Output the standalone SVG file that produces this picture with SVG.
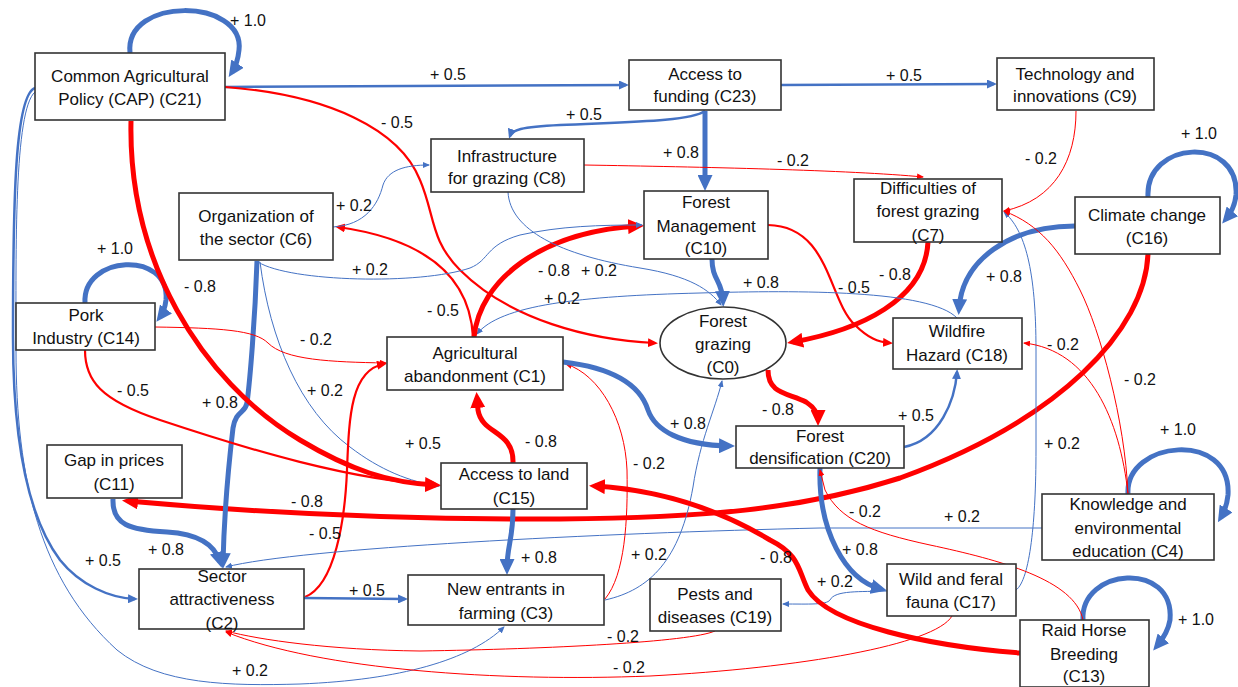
<svg xmlns="http://www.w3.org/2000/svg" width="1238" height="687" viewBox="0 0 1238 687">
<defs>
<style>
.n rect,.n ellipse{fill:#fff;stroke:#333;stroke-width:1.6}
.n text{font-family:"Liberation Sans",Arial,sans-serif;font-size:17px;fill:#111;text-anchor:middle}
.lb{font-family:"Liberation Sans",Arial,sans-serif;font-size:16px;fill:#111;text-anchor:middle}
.e{fill:none}
.bT{stroke:#4472C4;stroke-width:5;marker-end:url(#mbT)}
.bM{stroke:#4472C4;stroke-width:2.5;marker-end:url(#mbM)}
.bS{stroke:#4472C4;stroke-width:1;marker-end:url(#mbS)}
.rT{stroke:#FF0000;stroke-width:5;marker-end:url(#mrT)}
.rM{stroke:#FF0000;stroke-width:2.2;marker-end:url(#mrM)}
.rS{stroke:#FF0000;stroke-width:1;marker-end:url(#mrS)}
</style>
<marker id="mbT" viewBox="0 0 16 15" refX="10" refY="7.5" markerWidth="16" markerHeight="15" markerUnits="userSpaceOnUse" orient="auto"><path d="M0,0 L16,7.5 L0,15 z" fill="#4472C4"/></marker>
<marker id="mrT" viewBox="0 0 16 15" refX="10" refY="7.5" markerWidth="16" markerHeight="15" markerUnits="userSpaceOnUse" orient="auto"><path d="M0,0 L16,7.5 L0,15 z" fill="#FF0000"/></marker>
<marker id="mbM" viewBox="0 0 10 9" refX="7" refY="4.5" markerWidth="10" markerHeight="9" markerUnits="userSpaceOnUse" orient="auto"><path d="M0,0 L10,4.5 L0,9 z" fill="#4472C4"/></marker>
<marker id="mrM" viewBox="0 0 10 9" refX="7" refY="4.5" markerWidth="10" markerHeight="9" markerUnits="userSpaceOnUse" orient="auto"><path d="M0,0 L10,4.5 L0,9 z" fill="#FF0000"/></marker>
<marker id="mbS" viewBox="0 0 7 6" refX="6" refY="3" markerWidth="7" markerHeight="6" markerUnits="userSpaceOnUse" orient="auto"><path d="M0,0 L7,3 L0,6 z" fill="#4472C4"/></marker>
<marker id="mrS" viewBox="0 0 7 6" refX="6" refY="3" markerWidth="7" markerHeight="6" markerUnits="userSpaceOnUse" orient="auto"><path d="M0,0 L7,3 L0,6 z" fill="#FF0000"/></marker>
</defs>
<rect width="1238" height="687" fill="#fff"/>
<g id="connectors">
<!-- self loops -->
<path class="e bT" d="M130,53 C124,-4 245,-2 239,50 C238,60 236,66 232,72"/>
<path class="e bT" d="M85,303 C82,255 170,250 166,300 C165,308 163,313 160,317"/>
<path class="e bT" d="M1148,197 C1145,140 1240,135 1236,195 C1235,205 1231,213 1226,219"/>
<path class="e bT" d="M1128,494 C1125,440 1232,430 1228,495 C1227,505 1224,512 1221,517"/>
<path class="e bT" d="M1083,620 C1080,568 1175,560 1170,620 C1168,632 1162,640 1157,646"/>
<!-- edges -->
<path class="e bM" d="M225,87 L626,85"/>
<path class="e bM" d="M781,85 L994,84"/>
<path class="e rM" d="M225,87 C330,95 400,130 420,180 C435,215 430,240 460,270 C510,320 590,340 655,343"/>
<path class="e bM" d="M705,111 C690,122 620,122 560,125 C520,127 512,130 510,136"/>
<path class="e bT" d="M705,111 L705,185"/>
<path class="e rS" d="M584,165 C700,167 850,170 923,177"/>
<path class="e rS" d="M1076,111 C1076,160 1055,200 1004,211"/>
<path class="e bT" d="M1075,226 C1010,226 962,260 959,309"/>
<path class="e rT" d="M1148,254 C1145,330 1060,420 900,478 C800,510 700,518 560,519 C400,520 250,512 128,501"/>
<path class="e rT" d="M928,242 C925,300 860,330 793,342"/>
<path class="e bT" d="M712,259 C712,280 722,280 723,301"/>
<path class="e rM" d="M768,225 C830,226 828,300 855,325 C868,338 878,342 890,343"/>
<path class="e bS" d="M957,318 C930,290 800,290 700,293 C580,296 500,305 477,334"/>
<path class="e rT" d="M474,337 C480,280 540,232 638,226"/>
<path class="e rM" d="M473,337 C470,280 430,240 338,227"/>
<path class="e bS" d="M258,262 C290,282 420,285 470,268 C490,260 485,245 520,235 C560,226 600,225 642,225"/>
<path class="e bS" d="M333,227 C365,225 378,205 383,185 C388,170 405,165 429,165"/>
<path class="e bS" d="M508,192 C510,230 560,255 640,268 C690,276 710,290 721,305"/>
<path class="e bT" d="M257,261 C255,320 250,380 247,403 C245,414 236,410 233,428 C228,470 224,520 223,563"/>
<path class="e bS" d="M260,262 C270,340 300,410 350,447 C380,470 410,482 439,486"/>
<path class="e rS" d="M155,327 C220,328 255,330 268,343 C285,360 330,362 386,363"/>
<path class="e rM" d="M85,350 C85,380 100,400 160,420 C250,450 350,480 437,485"/>
<path class="e rT" d="M131,121 C128,260 200,380 300,440 C350,470 390,483 435,485"/>
<path class="e bM" d="M35,88 C15,95 13,200 13,337 C13,450 30,520 60,560 C80,585 110,598 135,599"/>
<path class="e bS" d="M35,92 C14,110 16,250 16,350 C16,480 40,580 117,650 C160,685 230,686 300,684 C400,680 470,660 504,627"/>
<path class="e bT" d="M113,499 C112,525 130,530 167,532 C200,534 215,545 220,562"/>
<path class="e rT" d="M513,463 C514,430 482,435 478,410 L477,398"/>
<path class="e bT" d="M513,509 C513,540 507,545 507,569"/>
<path class="e rM" d="M305,597 C335,585 345,520 347,470 C349,420 350,370 384,364"/>
<path class="e bM" d="M304,598 L405,599"/>
<path class="e bS" d="M1042,528 L820,528 C600,533 300,548 226,567"/>
<path class="e rS" d="M605,599 C625,575 628,520 627,470 C625,420 600,375 566,364"/>
<path class="e bS" d="M605,600 C650,590 680,560 693,487 C700,440 715,410 722,381"/>
<path class="e bT" d="M563,362 C615,368 640,385 648,410 C655,430 680,445 729,446"/>
<path class="e rT" d="M768,370 C768,395 790,393 806,402 C815,408 818,413 818,420"/>
<path class="e bM" d="M904,447 C940,440 955,400 957,372"/>
<path class="e bT" d="M820,468 C818,530 845,580 881,589"/>
<path class="e bS" d="M887,591 C860,592 835,590 830,600 C826,605 810,604 783,604"/>
<path class="e bS" d="M1016,590 C1030,580 1036,520 1036,450 L1036,350 C1036,270 1025,230 1004,212"/>
<path class="e rS" d="M1128,494 C1125,420 1100,330 1080,290 C1060,250 1040,225 1004,211"/>
<path class="e rS" d="M1128,494 C1120,420 1090,350 1024,343"/>
<path class="e rS" d="M1083,620 C1075,580 1000,560 930,545 C870,532 840,520 825,490 L820,470"/>
<path class="e rT" d="M1020,653 C930,646 830,625 808,590 C798,570 800,555 770,540 C720,510 660,490 595,486"/>
<path class="e rS" d="M715,631 C690,642 550,649 420,651 C330,650 260,640 226,631"/>
<path class="e rS" d="M952,616 C935,645 800,668 650,676 C500,682 320,670 226,632"/>
</g>
<g id="labels">
<text class="lb" x="248" y="26">+ 1.0</text>
<text class="lb" x="448" y="80">+ 0.5</text>
<text class="lb" x="904" y="81">+ 0.5</text>
<text class="lb" x="397" y="128">- 0.5</text>
<text class="lb" x="584" y="120">+ 0.5</text>
<text class="lb" x="681" y="158">+ 0.8</text>
<text class="lb" x="793" y="166">- 0.2</text>
<text class="lb" x="1041" y="164">- 0.2</text>
<text class="lb" x="1199" y="139">+ 1.0</text>
<text class="lb" x="1004" y="282">+ 0.8</text>
<text class="lb" x="895" y="280">- 0.8</text>
<text class="lb" x="854" y="293">- 0.5</text>
<text class="lb" x="354" y="211">+ 0.2</text>
<text class="lb" x="370" y="275">+ 0.2</text>
<text class="lb" x="200" y="292">- 0.8</text>
<text class="lb" x="115" y="254">+ 1.0</text>
<text class="lb" x="316" y="345">- 0.2</text>
<text class="lb" x="554" y="276">- 0.8</text>
<text class="lb" x="599" y="276">+ 0.2</text>
<text class="lb" x="562" y="304">+ 0.2</text>
<text class="lb" x="443" y="316">- 0.5</text>
<text class="lb" x="761" y="288">+ 0.8</text>
<text class="lb" x="778" y="415">- 0.8</text>
<text class="lb" x="688" y="429">+ 0.8</text>
<text class="lb" x="541" y="447">- 0.8</text>
<text class="lb" x="649" y="469">- 0.2</text>
<text class="lb" x="539" y="563">+ 0.8</text>
<text class="lb" x="649" y="560">+ 0.2</text>
<text class="lb" x="623" y="642">- 0.2</text>
<text class="lb" x="629" y="673">- 0.2</text>
<text class="lb" x="916" y="421">+ 0.5</text>
<text class="lb" x="1063" y="350">- 0.2</text>
<text class="lb" x="1140" y="385">- 0.2</text>
<text class="lb" x="1062" y="449">+ 0.2</text>
<text class="lb" x="1178" y="435">+ 1.0</text>
<text class="lb" x="865" y="517">- 0.2</text>
<text class="lb" x="962" y="522">+ 0.2</text>
<text class="lb" x="860" y="555">+ 0.8</text>
<text class="lb" x="835" y="587">+ 0.2</text>
<text class="lb" x="776" y="563">- 0.8</text>
<text class="lb" x="1196" y="625">+ 1.0</text>
<text class="lb" x="423" y="449">+ 0.5</text>
<text class="lb" x="325" y="396">+ 0.2</text>
<text class="lb" x="325" y="539">- 0.5</text>
<text class="lb" x="307" y="507">- 0.8</text>
<text class="lb" x="103" y="566">+ 0.5</text>
<text class="lb" x="166" y="555">+ 0.8</text>
<text class="lb" x="220" y="408">+ 0.8</text>
<text class="lb" x="133" y="396">- 0.5</text>
<text class="lb" x="367" y="596">+ 0.5</text>
<text class="lb" x="250" y="676">+ 0.2</text>
</g>
<g id="C21" class="n"><rect x="35" y="53" width="190" height="67"/><text x="130" y="82">Common Agricultural</text><text x="130" y="105">Policy (CAP) (C21)</text></g>
<g id="C23" class="n"><rect x="629" y="60" width="152" height="50"/><text x="705" y="80">Access to</text><text x="705" y="102">funding (C23)</text></g>
<g id="C9" class="n"><rect x="997" y="58" width="157" height="52"/><text x="1075" y="80">Technology and</text><text x="1075" y="102">innovations (C9)</text></g>
<g id="C8" class="n"><rect x="431" y="139" width="153" height="53"/><text x="507" y="162">Infrastructure</text><text x="507" y="184">for grazing (C8)</text></g>
<g id="C6" class="n"><rect x="179" y="193" width="154" height="67"/><text x="256" y="222">Organization of</text><text x="256" y="245">the sector (C6)</text></g>
<g id="C10" class="n"><rect x="644" y="191" width="124" height="68"/><text x="706" y="208">Forest</text><text x="706" y="232">Management</text><text x="706" y="254">(C10)</text></g>
<g id="C7" class="n"><rect x="854" y="179" width="148" height="63"/><text x="928" y="194">Difficulties of</text><text x="928" y="217">forest grazing</text><text x="928" y="241">(C7)</text></g>
<g id="C16" class="n"><rect x="1075" y="197" width="145" height="57"/><text x="1147" y="221">Climate change</text><text x="1147" y="244">(C16)</text></g>
<g id="C14" class="n"><rect x="16" y="303" width="139" height="47"/><text x="86" y="321">Pork</text><text x="86" y="344">Industry (C14)</text></g>
<g id="C0" class="n"><ellipse cx="723" cy="343" rx="63" ry="36"/><text x="723" y="327">Forest</text><text x="723" y="350">grazing</text><text x="723" y="373">(C0)</text></g>
<g id="C1" class="n"><rect x="387" y="337" width="176" height="53"/><text x="475" y="359">Agricultural</text><text x="475" y="382">abandonment (C1)</text></g>
<g id="C18" class="n"><rect x="893" y="318" width="129" height="51"/><text x="957" y="337">Wildfire</text><text x="957" y="361">Hazard (C18)</text></g>
<g id="C20" class="n"><rect x="736" y="426" width="168" height="42"/><text x="820" y="442">Forest</text><text x="820" y="464">densification (C20)</text></g>
<g id="C15" class="n"><rect x="441" y="463" width="146" height="46"/><text x="514" y="480">Access to land</text><text x="514" y="504">(C15)</text></g>
<g id="C11" class="n"><rect x="47" y="445" width="135" height="53"/><text x="114" y="466">Gap in prices</text><text x="114" y="490">(C11)</text></g>
<g id="C4" class="n"><rect x="1042" y="494" width="172" height="66"/><text x="1128" y="510">Knowledge and</text><text x="1128" y="534">environmental</text><text x="1128" y="557">education (C4)</text></g>
<g id="C2" class="n"><rect x="139" y="569" width="165" height="60"/><text x="222" y="582">Sector</text><text x="222" y="605">attractiveness</text><text x="222" y="629">(C2)</text></g>
<g id="C3" class="n"><rect x="408" y="575" width="196" height="50"/><text x="506" y="595">New entrants in</text><text x="506" y="619">farming (C3)</text></g>
<g id="C19" class="n"><rect x="650" y="579" width="131" height="52"/><text x="715" y="600">Pests and</text><text x="715" y="623">diseases (C19)</text></g>
<g id="C17" class="n"><rect x="887" y="564" width="129" height="52"/><text x="951" y="585">Wild and feral</text><text x="951" y="608">fauna (C17)</text></g>
<g id="C13" class="n"><rect x="1020" y="620" width="129" height="67"/><text x="1084" y="636">Raid Horse</text><text x="1084" y="660">Breeding</text><text x="1084" y="682">(C13)</text></g>
</svg>
